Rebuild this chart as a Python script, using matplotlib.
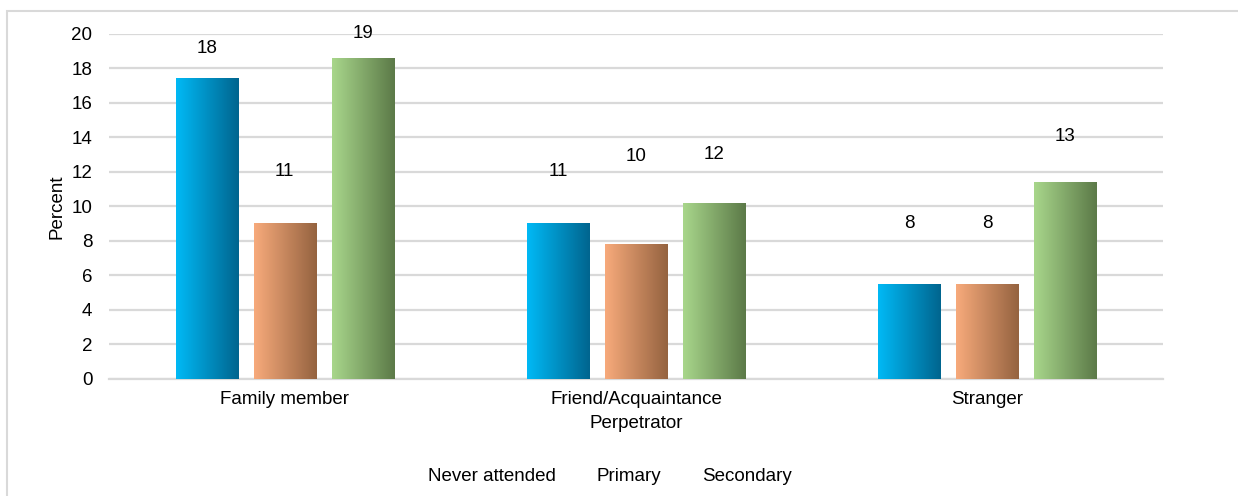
import matplotlib
matplotlib.use('Agg')
import matplotlib.pyplot as plt
import numpy as np
from matplotlib.colors import LinearSegmentedColormap
from matplotlib.patches import Rectangle, Patch

plt.rcParams['font.family'] = ['Liberation Sans', 'DejaVu Sans']

# data
categories = ['Family member', 'Friend/Acquaintance', 'Stranger']
series = ['Never attended', 'Primary', 'Secondary']
never_attended = [17.4, 9.0, 5.45]
primary = [9.0, 7.8, 5.45]
secondary = [18.55, 10.2, 11.4]
# printed labels (do not match bar heights in the source)
label_never = [18, 11, 8]
label_primary = [11, 10, 8]
label_secondary = [19, 12, 13]
yticks = [0, 2, 4, 6, 8, 10, 12, 14, 16, 18, 20]

# label height above bar top, in data units
LABEL_OFFSET = {
    'Never attended': [1.75, 3.0, 3.55],
    'Primary': [3.0, 5.1, 3.55],
    'Secondary': [1.45, 2.8, 2.65],
}

GRADIENTS = {
    'Never attended': ('#00B9F5', '#00658F'),
    'Primary': ('#F7AA7B', '#956340'),
    'Secondary': ('#A8D68B', '#5C7A48'),
}

BAR_W = 0.177
STEP = 0.222
FS = 13.5


def gradient_bar(ax, x, h, c0, c1):
    cmap = LinearSegmentedColormap.from_list('g', [c0, c1])
    grad = np.linspace(0, 1, 64).reshape(1, -1)
    ax.imshow(grad, cmap=cmap, aspect='auto', interpolation='bicubic',
              extent=(x - BAR_W / 2, x + BAR_W / 2, 0, h), zorder=3)


def main():
    fig = plt.figure(figsize=(12.38, 4.96), dpi=100)
    ax = fig.add_axes([0.088, 0.2359, 0.8514, 0.6956])

    values = {'Never attended': never_attended, 'Primary': primary,
              'Secondary': secondary}
    labels = {'Never attended': label_never, 'Primary': label_primary,
              'Secondary': label_secondary}

    x = np.arange(len(categories))
    for i, name in enumerate(series):
        c0, c1 = GRADIENTS[name]
        for j, xc in enumerate(x + (i - 1) * STEP):
            h = values[name][j]
            gradient_bar(ax, xc, h, c0, c1)
            ax.text(xc, h + LABEL_OFFSET[name][j], str(labels[name][j]),
                    ha='center', va='center', fontsize=FS, zorder=4)

    ax.set_xlim(-0.5, 2.5)
    ax.set_ylim(0, 20)
    ax.set_yticks(yticks)
    ax.set_xticks(x)
    ax.set_xticklabels(categories)
    ax.tick_params(axis='both', length=0, labelsize=FS)
    ax.tick_params(axis='y', pad=12)
    ax.tick_params(axis='x', pad=9)
    ax.grid(axis='y', color='#D9D9D9', linewidth=1.6, zorder=0)
    ax.set_axisbelow(True)
    for side in ['top', 'right', 'left']:
        ax.spines[side].set_visible(False)
    ax.spines['bottom'].set_color('#D9D9D9')
    ax.spines['bottom'].set_linewidth(1.6)

    ax.set_xlabel('Perpetrator', fontsize=FS, labelpad=5)
    ax.set_ylabel('Percent', fontsize=FS, labelpad=4)

    handles = [Patch(facecolor='none', edgecolor='none', label=s) for s in series]
    fig.legend(handles=handles, loc='center', bbox_to_anchor=(0.4927, 0.04),
               ncol=3, frameon=False, fontsize=FS, handlelength=0,
               handletextpad=0, columnspacing=2.2)

    # outer chart frame
    fig.patches.append(Rectangle((7 / 1238, -0.1), 1.2, 1 - 11 / 496 + 0.1,
                                 transform=fig.transFigure, fill=False,
                                 edgecolor='#D9D9D9', linewidth=1.5))

    fig.savefig('out.png', dpi=100)
    plt.close(fig)


if __name__ == '__main__':
    main()
